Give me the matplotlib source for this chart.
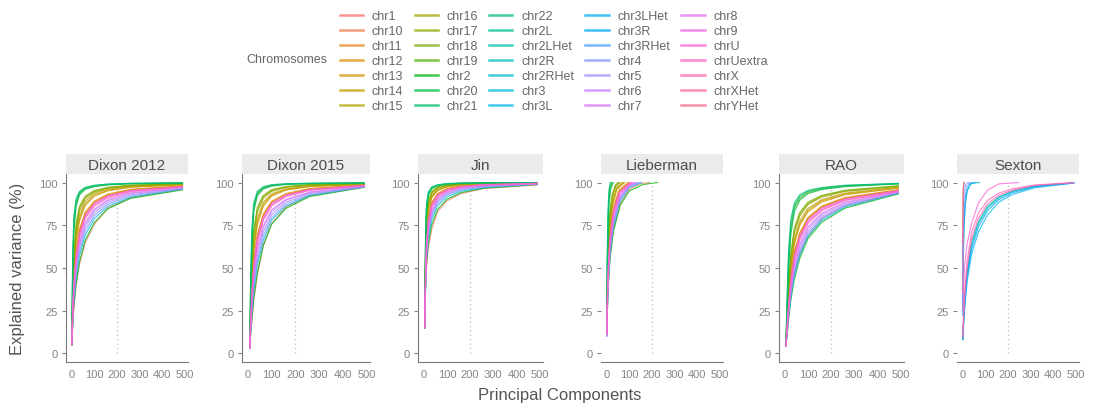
import numpy as np
import matplotlib
matplotlib.use('Agg')
import matplotlib.pyplot as plt
from matplotlib.lines import Line2D

plt.rcParams['font.family'] = ['Liberation Sans', 'DejaVu Sans']

# legend order of the chromosome factor
chroms = ['chr1', 'chr10', 'chr11', 'chr12', 'chr13', 'chr14', 'chr15',
          'chr16', 'chr17', 'chr18', 'chr19', 'chr2', 'chr20', 'chr21',
          'chr22', 'chr2L', 'chr2LHet', 'chr2R', 'chr2RHet', 'chr3', 'chr3L',
          'chr3LHet', 'chr3R', 'chr3RHet', 'chr4', 'chr5', 'chr6', 'chr7',
          'chr8', 'chr9', 'chrU', 'chrUextra', 'chrX', 'chrXHet', 'chrYHet']

panels = ['Dixon 2012', 'Dixon 2015', 'Jin', 'Lieberman', 'RAO', 'Sexton']

# cumulative explained variance (%)
dixon2012_pcs = [1, 5, 10, 20, 35, 60, 100, 160, 260, 490]
dixon2012 = {
    'chr21': [5, 55, 80, 90.5, 94.8, 97.2, 98.4, 99.1, 99.5, 99.8],
    'chr22': [5, 52, 77, 89, 94.2, 96.8, 98.2, 99.0, 99.5, 99.8],
    'chr19': [5, 49, 74, 87.5, 93.5, 96.4, 97.9, 98.8, 99.4, 99.7],
    'chr20': [5, 46, 71, 86, 92.7, 96, 97.6, 98.6, 99.3, 99.7],
    'chr18': [5, 36, 58, 76, 86, 92, 95.3, 97.2, 98.5, 99.4],
    'chr17': [5, 34, 56, 74, 85, 91.3, 94.8, 96.9, 98.3, 99.3],
    'chr16': [5, 33, 54, 72, 83.5, 90.5, 94.3, 96.6, 98.1, 99.2],
    'chr15': [5, 31, 51, 69, 81, 89, 93.5, 96.1, 97.8, 99.0],
    'chr14': [5, 30, 49, 67, 79, 87.5, 92.6, 95.5, 97.4, 98.8],
    'chr13': [5, 29, 47, 65, 77.5, 86.5, 92, 95.1, 97.2, 98.7],
    'chr12': [5, 26, 43, 60, 72.5, 82.5, 89, 93.2, 96.0, 98.1],
    'chr11': [5, 26, 42, 59, 71.5, 81.8, 88.5, 92.8, 95.8, 98.0],
    'chr10': [5, 25, 41, 58, 70.5, 81, 88, 92.4, 95.5, 97.8],
    'chr9': [5, 25, 41, 57.5, 70, 80.5, 87.6, 92.1, 95.3, 97.7],
    'chr8': [5, 24, 40, 56.5, 69, 79.5, 86.8, 91.5, 94.9, 97.5],
    'chrX': [5, 24, 39, 55.5, 68, 78.8, 86.2, 91.1, 94.6, 97.4],
    'chr7': [5, 22, 37, 53, 65.5, 76.5, 84.5, 90, 93.9, 97.1],
    'chr6': [5, 21, 36, 51.5, 64, 75.3, 83.6, 89.3, 93.5, 96.9],
    'chr5': [5, 20, 34, 49.5, 62, 73.5, 82.2, 88.3, 92.8, 96.6],
    'chr4': [5, 19, 32, 47, 59.5, 71.3, 80.5, 87.2, 92.1, 96.4],
    'chr3': [5, 18, 30, 44.5, 57, 69, 78.8, 86, 91.4, 96.2],
    'chr2': [5, 16, 27, 41, 53.5, 66, 76.5, 84.6, 90.7, 95.7],
    'chr1': [5, 15, 26, 39.5, 52, 64.5, 75.5, 85, 91, 96.0],
}

dixon2015_pcs = [8, 12, 17, 25, 40, 65, 100, 160, 260, 490]
dixon2015 = {
    'chr21': [3, 44, 72, 88, 94.8, 97.5, 98.7, 99.3, 99.6, 99.8],
    'chr22': [3, 41, 69, 86.5, 94, 97.1, 98.5, 99.2, 99.5, 99.8],
    'chr19': [3, 38, 66, 85, 93.2, 96.7, 98.2, 99.0, 99.4, 99.7],
    'chr20': [3, 35, 62, 83, 92.3, 96.2, 97.9, 98.9, 99.4, 99.7],
    'chr18': [3, 30, 52, 72, 85.5, 92.5, 95.8, 97.7, 98.8, 99.5],
    'chr17': [3, 29, 50, 70, 84, 91.7, 95.3, 97.4, 98.6, 99.4],
    'chr16': [3, 28, 48, 68, 82.5, 90.8, 94.8, 97.1, 98.4, 99.3],
    'chr15': [3, 26, 45, 64, 79, 88.5, 93.4, 96.3, 98.0, 99.2],
    'chr14': [3, 25, 43, 62, 77, 87.2, 92.7, 95.9, 97.8, 99.1],
    'chr13': [3, 24, 41, 60, 75, 86, 92, 95.5, 97.6, 99.0],
    'chr12': [3, 21, 37, 54, 69.5, 81.5, 89, 93.5, 96.5, 98.6],
    'chr11': [3, 21, 36, 53, 68.5, 80.8, 88.5, 93.1, 96.3, 98.5],
    'chr10': [3, 20, 35, 52, 67.5, 80, 88, 92.8, 96.1, 98.4],
    'chr9': [3, 20, 35, 51.5, 67, 79.5, 87.6, 92.6, 95.9, 98.4],
    'chr8': [3, 19, 34, 50.5, 66, 78.5, 86.8, 92.1, 95.6, 98.3],
    'chrX': [3, 19, 33, 49.5, 65, 77.8, 86.2, 91.7, 95.4, 98.2],
    'chr7': [3, 17, 30, 46, 61.5, 74.8, 84, 90.2, 94.5, 97.9],
    'chr6': [3, 16, 29, 44.5, 60, 73.5, 83, 89.6, 94.1, 97.8],
    'chr5': [3, 15, 27, 42, 57, 71, 81.3, 88.5, 93.5, 97.6],
    'chr4': [3, 14, 25, 39.5, 54, 68.5, 79.5, 87.3, 92.9, 97.5],
    'chr3': [3, 13, 23, 37, 51.5, 66, 78, 86.2, 92.4, 97.4],
    'chr2': [3, 11, 20, 32, 47, 63, 75.5, 84.8, 91.8, 97.2],
    'chr1': [3, 11, 19, 31, 46, 63, 76, 85.5, 92.2, 97.3],
}

jin_pcs = [4, 8, 12, 20, 35, 60, 100, 160, 260, 490]
jin = {
    'chr21': [15, 68, 87, 94.5, 97.4, 98.7, 99.4, 99.7, 99.85, 99.95],
    'chr22': [15, 65, 85.5, 93.8, 97.1, 98.5, 99.3, 99.6, 99.8, 99.95],
    'chr19': [15, 62, 84, 93.2, 96.8, 98.3, 99.2, 99.55, 99.8, 99.9],
    'chr20': [15, 60, 82, 92.4, 96.4, 98.1, 99.1, 99.5, 99.75, 99.9],
    'chr18': [15, 56, 78, 89.5, 94.8, 97.4, 98.6, 99.2, 99.6, 99.85],
    'chr17': [15, 54, 76.5, 88.5, 94.2, 97.1, 98.4, 99.1, 99.55, 99.85],
    'chr16': [15, 53, 75, 87.5, 93.6, 96.8, 98.2, 99, 99.5, 99.8],
    'chr15': [15, 51, 72.5, 85.5, 92.4, 96, 97.8, 98.8, 99.4, 99.8],
    'chr14': [15, 50, 71, 84.5, 91.7, 95.6, 97.6, 98.7, 99.35, 99.75],
    'chr13': [15, 49, 70, 83.5, 91.1, 95.2, 97.4, 98.6, 99.3, 99.75],
    'chr12': [15, 46, 66, 80, 88.4, 93.5, 96.4, 98, 99, 99.6],
    'chr11': [15, 45.5, 65, 79.2, 88, 93.2, 96.2, 97.9, 98.9, 99.6],
    'chr10': [15, 45, 64.5, 78.5, 87.5, 92.9, 96, 97.8, 98.85, 99.55],
    'chr9': [15, 44.5, 64, 78, 87, 92.6, 95.8, 97.7, 98.8, 99.5],
    'chr8': [15, 44, 63, 77, 86.3, 92.1, 95.5, 97.5, 98.7, 99.5],
    'chrX': [15, 43.5, 62, 76, 85.6, 91.6, 95.2, 97.3, 98.6, 99.45],
    'chr7': [15, 42, 60, 74, 84, 90.6, 94.5, 96.9, 98.3, 99.35],
    'chr6': [15, 41, 59, 73, 83.2, 90, 94.1, 96.6, 98.1, 99.3],
    'chr5': [15, 40, 57.5, 71.5, 81.8, 89, 93.4, 96.1, 97.8, 99.2],
    'chr4': [15, 39, 56, 70, 80.5, 88, 92.7, 95.6, 97.5, 99.1],
    'chr3': [15, 38, 54, 68, 78.5, 86.5, 91.6, 94.9, 97.1, 99.0],
    'chr2': [15, 37, 51.5, 64.5, 75.5, 84.3, 90.2, 94.1, 96.7, 98.8],
    'chr1': [15, 38, 50, 62, 73, 83, 89.3, 93.5, 96.5, 98.6],
}

rao_pcs = [5, 10, 17, 27, 42, 65, 100, 160, 260, 490]
rao = {
    'chr21': [4, 30, 61, 79, 88, 92.8, 95.4, 97.1, 98.4, 99.5],
    'chr22': [4, 28, 57, 76, 86.5, 91.8, 94.8, 96.7, 98.2, 99.4],
    'chr19': [4, 26, 53, 73, 85, 90.8, 94.2, 96.3, 97.9, 99.3],
    'chr20': [4, 24, 50, 70, 83, 89.6, 93.5, 95.9, 97.6, 99.2],
    'chr18': [4, 20, 40, 59, 73.5, 82.5, 88.5, 92.5, 95.5, 98.1],
    'chr17': [4, 19.5, 39, 57.5, 72, 81.3, 87.7, 92, 95.1, 97.9],
    'chr16': [4, 19, 37.5, 56, 70.5, 80.2, 87, 91.5, 94.8, 97.7],
    'chr15': [4, 18, 35, 52.5, 67, 77.3, 84.8, 90, 93.8, 97.2],
    'chr14': [4, 17.5, 34, 51, 65.5, 76, 83.8, 89.3, 93.3, 96.9],
    'chr13': [4, 17, 33, 49.5, 64, 74.8, 82.8, 88.6, 92.8, 96.7],
    'chr12': [4, 15.5, 30, 45.5, 59.5, 70.5, 79.5, 86.2, 91.2, 95.8],
    'chr11': [4, 15, 29.5, 44.8, 58.8, 69.8, 79, 85.8, 90.9, 95.6],
    'chr10': [4, 15, 29, 44, 58, 69, 78.3, 85.3, 90.6, 95.4],
    'chr9': [4, 14.5, 28.5, 43.5, 57.3, 68.4, 77.8, 84.9, 90.3, 95.3],
    'chr8': [4, 14, 27.5, 42.5, 56, 67.2, 76.8, 84.2, 89.8, 95.1],
    'chrX': [4, 14, 27, 41.5, 55, 66.4, 76, 83.6, 89.4, 94.9],
    'chr7': [4, 13, 25.5, 39.5, 52.5, 64, 74, 82.2, 88.5, 94.6],
    'chr6': [4, 12.5, 24.5, 38, 51, 62.6, 72.8, 81.3, 87.9, 94.4],
    'chr5': [4, 12, 23.5, 36.5, 49, 60.7, 71.2, 80.1, 87.1, 94.1],
    'chr4': [4, 11.5, 22.5, 35, 47.3, 59, 69.8, 79, 86.4, 93.9],
    'chr3': [4, 11, 21.5, 33.5, 45.5, 57.3, 68.4, 77.9, 85.7, 93.7],
    'chr2': [4, 10, 20, 31.5, 43.5, 55.5, 67, 76.8, 85, 93.3],
    'chr1': [4, 10.5, 21, 34, 47, 58.5, 68.5, 79, 86.5, 93.6],
}

# Lieberman and Sexton: chromosomes have different numbers of PCs
lieberman = {
    'chr21': ([1, 3, 6, 10, 16], [14, 55, 82, 95, 100]),
    'chr22': ([1, 3, 6, 10, 15, 22], [14, 50, 76, 91, 98, 100]),
    'chr19': ([1, 3, 6, 10, 16, 25], [14, 48, 73, 88, 96.5, 100]),
    'chr20': ([1, 3, 6, 10, 18, 30], [13, 45, 70, 86, 96, 100]),
    'chr18': ([1, 4, 8, 15, 25, 40, 52], [13, 45, 67, 83, 93, 98.8, 100]),
    'chr17': ([1, 4, 8, 15, 25, 40, 55], [13, 44, 65, 82, 92, 98.3, 100]),
    'chr16': ([1, 4, 8, 15, 25, 40, 60], [13, 43, 63, 80, 90.5, 97.5, 100]),
    'chr15': ([1, 4, 8, 15, 25, 45, 70], [12, 40, 60, 77, 88, 97, 100]),
    'chr14': ([1, 4, 8, 15, 25, 45, 75], [12, 39, 58, 75, 86.5, 96.3, 100]),
    'chr13': ([1, 4, 8, 15, 25, 45, 80], [12, 38, 57, 74, 85.5, 95.8, 100]),
    'chr12': ([1, 4, 8, 15, 30, 55, 95], [12, 35, 53, 70, 85, 95.5, 100]),
    'chr11': ([1, 4, 8, 15, 30, 55, 100], [12, 35, 52, 69, 84.3, 95, 100]),
    'chr10': ([1, 4, 8, 15, 30, 55, 100], [12, 34, 51, 68, 83.5, 94.5, 100]),
    'chr9': ([1, 4, 8, 15, 30, 55, 105], [11, 34, 50.5, 67.5, 83, 94, 100]),
    'chr8': ([1, 4, 8, 15, 30, 60, 110], [11, 33, 50, 66.5, 82, 94.5, 100]),
    'chrX': ([1, 4, 8, 15, 30, 60, 115], [11, 33, 49, 65.5, 81, 94, 100]),
    'chr7': ([1, 4, 8, 15, 30, 60, 100, 125], [11, 31, 47, 63.5, 79, 92.5, 98.8, 100]),
    'chr6': ([1, 4, 8, 15, 30, 60, 100, 135], [10, 30, 46, 62.5, 78, 91.8, 98.4, 100]),
    'chr5': ([1, 4, 8, 15, 30, 60, 100, 140], [10, 29, 45, 61, 76.5, 91, 98, 100]),
    'chr4': ([1, 4, 8, 15, 30, 60, 100, 150], [10, 28, 44, 59.5, 75, 90, 97.5, 100]),
    'chr3': ([1, 4, 8, 15, 30, 60, 100, 155], [10, 27, 42, 58, 73.5, 89, 97, 100]),
    'chr2': ([1, 4, 8, 15, 30, 60, 100, 160, 225], [11, 26, 40, 55, 71, 86.5, 95, 98.8, 100]),
    'chr1': ([1, 4, 8, 15, 30, 60, 100, 150, 190], [12, 27, 41, 56, 72, 87.5, 96, 99.3, 100]),
}

sexton = {
    'chr2L': ([1, 5, 10, 20, 40, 70, 110, 160, 220, 320, 490],
              [8, 21, 32, 48, 65, 77, 86, 91.5, 95, 98, 99.8]),
    'chr2LHet': ([1, 2, 4, 7], [40, 80, 96, 100]),
    'chr2R': ([1, 5, 10, 20, 40, 70, 110, 160, 220, 320, 480],
              [8, 20, 30, 46, 63, 76, 85, 91, 94.7, 97.8, 99.8]),
    'chr2RHet': ([1, 3, 6, 12, 20, 35, 50, 75], [25, 55, 74, 88, 95, 99, 99.8, 100]),
    'chr3L': ([1, 5, 10, 20, 40, 70, 110, 160, 220, 320, 490],
              [8, 18, 27, 42, 58, 71, 81, 88.5, 93, 97, 99.7]),
    'chr3LHet': ([1, 3, 6, 12, 20, 35, 60], [22, 52, 72, 87, 95, 99.3, 100]),
    'chr3R': ([1, 5, 10, 20, 40, 70, 110, 160, 220, 320, 495],
              [8, 19, 29, 44, 61, 74, 83.5, 90, 94, 97.5, 99.7]),
    'chr3RHet': ([1, 3, 6, 12, 20, 30, 45], [30, 62, 80, 92, 97.5, 99.6, 100]),
    'chr4': ([1, 2, 4, 8, 14, 22, 30], [45, 70, 86, 95, 98.8, 99.8, 100]),
    'chrU': ([1, 5, 10, 20, 40, 70, 110, 160, 248], [25, 40, 52, 64, 76, 88, 95.5, 99.2, 100]),
    'chrUextra': ([1, 5, 10, 20, 40, 70, 110, 160, 220, 320, 490],
                  [9, 22, 34, 50, 67, 79, 87.5, 92.5, 95.5, 98.3, 99.9]),
    'chrX': ([1, 5, 10, 20, 40, 70, 110, 160, 220, 320, 490],
             [10, 24, 37, 54, 71, 82, 89.5, 93.8, 96.3, 98.6, 99.9]),
    'chrXHet': ([1, 2, 3, 5], [35, 75, 93, 100]),
    'chrYHet': ([1, 2, 3, 6], [65, 88, 97, 100]),
}


def hcl_hex(h, c=100, l=65):
    # polar Luv -> sRGB, same white point as R's hcl()
    xn, yn, zn = 95.047, 100.0, 108.883
    t = xn + yn + zn
    x, y = xn / t, yn / t
    un = 2 * x / (6 * y - x + 1.5)
    vn = 4.5 * y / (6 * y - x + 1.5)
    u_ = c * np.cos(np.radians(h)) / (13 * l) + un
    v_ = c * np.sin(np.radians(h)) / (13 * l) + vn
    Y = yn * ((l + 16) / 116) ** 3
    X = 9 * Y * u_ / (4 * v_)
    Z = -X / 3 - 5 * Y + 3 * Y / v_
    X, Y, Z = X / 100, Y / 100, Z / 100
    rgb = [3.240479 * X - 1.537150 * Y - 0.498535 * Z,
           -0.969256 * X + 1.875992 * Y + 0.041556 * Z,
           0.055648 * X - 0.204043 * Y + 1.057311 * Z]
    out = []
    for v in rgb:
        v = 1.055 * v ** (1 / 2.4) - 0.055 if v > 0.00304 else 12.92 * v
        out.append(min(max(v, 0), 1))
    return tuple(out)


n = len(chroms)
colors = {ch: hcl_hex(15 + i * 360 / n) for i, ch in enumerate(chroms)}

human = {'Dixon 2012': (dixon2012_pcs, dixon2012),
         'Dixon 2015': (dixon2015_pcs, dixon2015),
         'Jin': (jin_pcs, jin),
         'RAO': (rao_pcs, rao)}
panel_curves = {}
for name, (pcs, table) in human.items():
    panel_curves[name] = {ch: (pcs, vals) for ch, vals in table.items()}
panel_curves['Lieberman'] = lieberman
panel_curves['Sexton'] = sexton

W, H = 1093, 410
fig = plt.figure(figsize=(W / 100, H / 100), dpi=100)

# panel frames in pixels: left, width
frames = [(66, 122), (242, 128), (418, 125), (601, 122), (779, 125), (957, 122)]
ax_top, ax_bot, strip_top = 175, 362.7, 155
tick_col = '#858585'
text_col = '#555555'

for name, (left, width) in zip(panels, frames):
    ax = fig.add_axes([left / W, 1 - ax_bot / H, width / W, (ax_bot - ax_top) / H])
    ax.set_xlim(-24.5, 514.5)
    ax.set_ylim(-5, 105)
    ax.vlines(200, 0, 100, colors='#bdbdbd', linestyles=(0, (1, 2.5)), lw=0.9)
    curves = panel_curves[name]
    for ch in chroms:
        if ch in curves:
            pcs, vals = curves[ch]
            ax.plot(pcs, vals, color=colors[ch], lw=0.85, alpha=0.75)
    ax.set_xticks([0, 100, 200, 300, 400, 500])
    ax.set_yticks([0, 25, 50, 75, 100])
    ax.tick_params(axis='x', length=0, pad=5, labelsize=8, labelcolor=tick_col)
    ax.tick_params(axis='y', length=3, width=0.8, color=tick_col, pad=3,
                   labelsize=8, labelcolor=tick_col)
    for s in ['top', 'right']:
        ax.spines[s].set_visible(False)
    for s in ['left', 'bottom']:
        ax.spines[s].set_color('#7a7a7a')
        ax.spines[s].set_linewidth(0.8)
    if name in ('Lieberman', 'Sexton'):
        ax.spines['left'].set_visible(False)
    ax.set_facecolor('none')

    sax = fig.add_axes([left / W, 1 - ax_top / H, width / W, (ax_top - strip_top) / H])
    sax.set_facecolor('#ebebeb')
    sax.set_xticks([])
    sax.set_yticks([])
    for s in sax.spines.values():
        s.set_visible(False)
    sax.text(0.5, 0.45, name, ha='center', va='center', fontsize=11,
             color='#4d4d4d', transform=sax.transAxes)

fig.text(18 / W, 1 - 269 / H, 'Explained variance (%)', rotation=90,
         ha='center', va='center', fontsize=12, color=text_col)
fig.text(560 / W, 1 - 396 / H, 'Principal Components', ha='center',
         va='center', fontsize=12, color=text_col)

handles = [Line2D([], [], color=colors[ch], lw=1.8, alpha=0.75) for ch in chroms]
leg = fig.legend(handles, chroms, loc='upper left', ncol=5,
                 bbox_to_anchor=(340 / W, 1 - 11 / H), borderaxespad=0,
                 borderpad=0, frameon=False, fontsize=9, handlelength=1.85,
                 handletextpad=0.7, columnspacing=0.9, labelspacing=0.24)
for t in leg.get_texts():
    t.set_color('#666666')
fig.text(246 / W, 1 - 60 / H, 'Chromosomes', ha='left', va='center',
         fontsize=9, color='#666666')

fig.savefig('out.png', dpi=100)
